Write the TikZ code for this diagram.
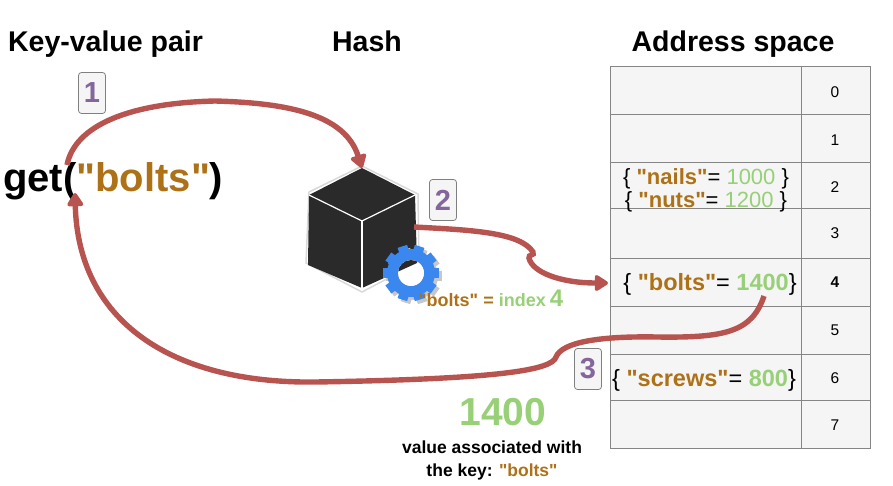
\documentclass[tikz,border=0pt]{standalone}
\usepackage{fontspec}
\setmainfont[Ligatures=TeXOff]{Liberation Sans}
\usetikzlibrary{arrows.meta}
\definecolor{keybrown}{HTML}{AD7118}
\definecolor{valgreen}{HTML}{97D077}
\definecolor{steppurple}{HTML}{84659C}
\definecolor{flowred}{HTML}{B85450}
\definecolor{cellgray}{HTML}{F5F5F5}
\definecolor{gearblue}{HTML}{3B87F0}
\definecolor{cubeblack}{HTML}{2A2A2A}
\newcommand{\keytxt}[1]{\textcolor{keybrown}{\bfseries #1}}
\newcommand{\valtxt}[1]{\textcolor{valgreen}{#1}}
\tikzset{
  title/.style={font=\fontsize{28.5}{30}\selectfont\bfseries,inner sep=0pt,anchor=base},
  stepbox/.style={draw=black!50,fill=cellgray,rounded corners=3pt,line width=0.8pt,minimum width=27pt,minimum height=41pt,inner sep=0pt,text=steppurple,font=\fontsize{29}{30}\selectfont\bfseries},
  cell/.style={draw=black!48,fill=cellgray,line width=1pt},
  rowtxt/.style={font=\fontsize{22}{22}\selectfont,inner sep=0pt,anchor=base},
  idxtxt/.style={font=\fontsize{15.5}{16}\selectfont,inner sep=0pt},
  flow/.style={draw=flowred,line width=5.4pt},
  flowtip/.style={flow,-{Triangle[round,length=15pt,width=18pt]}}
}
\begin{document}
\begin{tikzpicture}[x=1pt,y=-1pt]
\useasboundingbox (0,0) rectangle (893,486);
% address table
\foreach \top/\bot in {67/115,115/163,163/209,209/258,258/306,306/354,354/400,400/448} {
  \draw[cell] (610,\top) rectangle (801,\bot);
  \draw[cell] (801,\top) rectangle (870,\bot);
}
\foreach \y/\idx in {92/0,140/1,187/2,233/3,330/5,378/6,425/7}
  \node[idxtxt] (idx\idx) at (835,\y) {\idx};
\node[idxtxt,font=\fontsize{15.5}{16}\selectfont\bfseries] (idx4) at (835,282) {4};
% titles
\node[title] (pairtitle) at (105.5,52) {Key-value pair};
\node[title] (hashtitle) at (367,52) {Hash};
\node[title] (addrtitle) at (733,52) {Address space};
\node[font=\fontsize{40}{42}\selectfont\bfseries,anchor=base west,inner sep=0pt] (call) at (3,192) {get(\keytxt{"bolts"})};
% table rows
\node[rowtxt] (nails) at (706,185) {\{ \keytxt{"nails"}= \valtxt{1000} \}};
\node[rowtxt] (nuts) at (706,208) {\{ \keytxt{"nuts"}= \valtxt{1200} \}};
\node[rowtxt,font=\fontsize{23.5}{24}\selectfont] (bolts) at (710,290) {\{ \keytxt{"bolts"}= \textcolor{valgreen}{\bfseries 1400}\}};
\node[rowtxt,font=\fontsize{23.5}{24}\selectfont] (screws) at (704,386) {\{ \keytxt{"screws"}= \textcolor{valgreen}{\bfseries 800}\}};
% cube
\draw[black!15,line width=1.5pt] (309,192) -- (362,166) -- (418,194) -- (419,262) -- (362,292) -- (306,263) -- cycle;
\fill[cubeblack] (362,168) -- (415,195) -- (417,263) -- (362,288) -- (308,265) -- (309,195) -- cycle;
\draw[white,line width=1.2pt] (309,195) -- (362,221) -- (415,195);
\draw[white,line width=1.2pt] (362,221) -- (362,288);
% gear
\foreach \gx/\gy/\gcol in {414/276/black!22,411/273/gearblue} {
  \draw[\gcol,line width=11pt] (\gx,\gy) circle (18.5);
  \foreach \a in {0,36,...,324}
    \fill[\gcol,rotate around={\a+18:(\gx,\gy)}] (\gx-5,\gy-28) rectangle (\gx+5,\gy-20);
}
\begin{scope}
  \clip (411,273) circle (13);
  \fill[white] (395,257) rectangle (427,289);
  \fill[cubeblack] (395,257) -- (417,257) -- (417,263) -- (395,273) -- cycle;
\end{scope}
\node[font=\fontsize{18}{18}\selectfont\bfseries,anchor=base west,inner sep=0pt] (idxlabel) at (418,306) {\keytxt{"bolts" =} \valtxt{index}\hspace{-1pt} \textcolor{valgreen}{\fontsize{24}{24}\selectfont 4}};
% step boxes
\node[stepbox] (one) at (92,93) {1};
\node[stepbox] (two) at (443,200) {2};
\node[stepbox] (three) at (588,369) {3};
% result
\node[font=\fontsize{39}{40}\selectfont\bfseries,text=valgreen,inner sep=0pt] (result) at (503,412) {1400};
\node[font=\fontsize{17.5}{23}\selectfont\bfseries,align=center,inner sep=0pt] (resnote) at (492,460) {value associated with\\the key: \keytxt{"bolts"}};
% flows
\coordinate (getout) at (67,165);
\coordinate (getin) at (75,193);
\coordinate (hashin) at (362,168);
\coordinate (hashout) at (414,227);
\coordinate (slotin) at (608,283);
\coordinate (slotout) at (764,296);
\draw[flowtip] (getout) .. controls (75,125) and (130,103) .. (215,101) .. controls (290,103) and (345,115) .. (hashin);
\draw[flowtip] (hashout) .. controls (470,230) and (520,232) .. (533,252) .. controls (535,256) and (528,254) .. (529,258) .. controls (532,272) and (560,283) .. (slotin);
\draw[flowtip] (slotout) .. controls (752,332) and (725,338) .. (657,337) .. controls (600,336) and (562,342) .. (556,357) .. controls (552,370) and (500,379) .. (316,382) .. controls (170,384) and (78,320) .. (getin);
\end{tikzpicture}
\end{document}
